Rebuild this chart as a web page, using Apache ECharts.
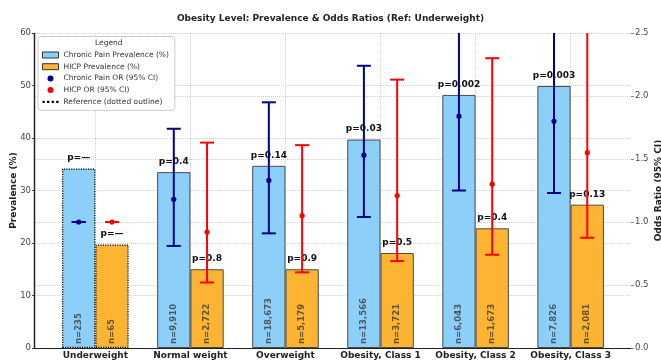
<!DOCTYPE html>
<html>
<head>
<meta charset="utf-8">
<script src="https://cdn.jsdelivr.net/npm/echarts@6/dist/echarts.min.js"></script>
<style>
  html, body { margin: 0; padding: 0; background: #fff; }
  #chart { width: 661px; height: 362px; }
</style>
</head>
<body>
<div id="chart"></div>
<script>
// Obesity categories and summary statistics
const categories = ['Underweight', 'Normal weight', 'Overweight', 'Obesity, Class 1', 'Obesity, Class 2', 'Obesity, Class 3'];
const categoryPos = [0, 1, 2, 3, 4, 5];

const cpPrev   = [34.2, 33.5, 34.7, 39.7, 48.2, 49.9];
const hicpPrev = [19.7, 15.0, 15.0, 18.1, 22.8, 27.3];

const cpN   = ['235', '9,910', '18,673', '13,566', '6,043', '7,826'];
const hicpN = ['65', '2,722', '5,179', '3,721', '1,673', '2,081'];

const cpP   = ['—', '0.4', '0.14', '0.03', '0.002', '0.003'];
const hicpP = ['—', '0.8', '0.9', '0.5', '0.4', '0.13'];

const cpOR   = [1.00, 1.18, 1.33, 1.53, 1.84, 1.80];
const cpLo   = [1.00, 0.81, 0.91, 1.04, 1.25, 1.23];
const cpHi   = [1.00, 1.74, 1.95, 2.24, 2.75, 2.65];

const hicpOR = [1.00, 0.92, 1.05, 1.21, 1.30, 1.55];
const hicpLo = [1.00, 0.52, 0.60, 0.69, 0.74, 0.875];
const hicpHi = [1.00, 1.63, 1.61, 2.13, 2.30, 2.75];

const prevTicks = { min: 0, max: 60, interval: 10 };
const orTicks = { min: 0, max: 2.5, interval: 0.5 };

// Layout constants
const FONT = 'DejaVu Sans';
const OFFSET = 0.175;            // half of bar width in category units
const X_MIN = -0.635, X_MAX = 5.635;
const PLOT = { left: 35, right: 30, top: 33, bottom: 14 };
const unitPx = (661 - PLOT.left - PLOT.right) / (X_MAX - X_MIN);
const BAR_W = 0.35 * unitPx;

const blueFill = '#8ccff8';
const orangeFill = '#fdb433';
const edge = '#4a4a4a';
const navy = '#00008b';
const red = '#ff0000';

function barData(vals, shift) {
  return vals.map((v, i) => {
    const item = { value: [categoryPos[i] + shift, v] };
    if (i === 0) {
      item.itemStyle = { borderType: 'dotted', borderColor: '#000', borderWidth: 1.2 };
    }
    return item;
  });
}

function pLabel(pArr) {
  return {
    show: true,
    position: 'top',
    distance: 6,
    fontFamily: FONT,
    fontWeight: 'bold',
    fontSize: 9,
    color: '#111',
    formatter: p => 'p=' + pArr[p.dataIndex]
  };
}

function nSeries(nArr, shift) {
  return {
    type: 'scatter',
    xAxisIndex: 0, yAxisIndex: 0,
    symbolSize: 0,
    silent: true,
    z: 5,
    data: nArr.map((n, i) => [categoryPos[i] + shift, 0]),
    label: {
      show: true,
      position: 'top',
      distance: 4,
      rotate: 90,
      align: 'left',
      verticalAlign: 'middle',
      fontFamily: FONT,
      fontWeight: 'bold',
      fontSize: 8.5,
      color: '#3a3a3a',
      formatter: p => 'n=' + nArr[p.dataIndex]
    }
  };
}

// Vertical CI whisker with caps and a centre dot, clipped to the plot area
function errRender(params, api) {
  const x = api.value(0), lo = api.value(1), hi = api.value(2), mid = api.value(3);
  const cs = params.coordSys;
  const pLo = api.coord([x, lo]);
  const pHi = api.coord([x, hi]);
  const pMid = api.coord([x, mid]);
  const color = api.visual('color');
  const top = Math.max(pHi[1], cs.y);
  const bottom = Math.min(pLo[1], cs.y + cs.height);
  const cap = 7;
  const style = { stroke: color, lineWidth: 2 };
  const children = [
    { type: 'line', shape: { x1: pMid[0], y1: top, x2: pMid[0], y2: bottom }, style: style },
    { type: 'line', shape: { x1: pMid[0] - cap, y1: pLo[1], x2: pMid[0] + cap, y2: pLo[1] }, style: style }
  ];
  if (pHi[1] >= cs.y) {
    children.push({ type: 'line', shape: { x1: pMid[0] - cap, y1: pHi[1], x2: pMid[0] + cap, y2: pHi[1] }, style: style });
  }
  children.push({ type: 'circle', shape: { cx: pMid[0], cy: pMid[1], r: 2.6 }, style: { fill: color } });
  return { type: 'group', children: children };
}

function errSeries(name, color, ors, los, his, shift) {
  return {
    name: name,
    type: 'custom',
    xAxisIndex: 0, yAxisIndex: 1,
    itemStyle: { color: color },
    z: 10,
    renderItem: errRender,
    encode: { x: 0, y: [1, 2, 3] },
    data: ors.map((v, i) => [categoryPos[i] + shift, los[i], his[i], v])
  };
}

// Left spine of the plot frame: a solid line along the x-axis minimum
function spineRender(params, api) {
  const pBottom = api.coord([X_MIN, prevTicks.min]);
  const pTop = api.coord([X_MIN, prevTicks.max]);
  const x = Math.round(pBottom[0]) - 0.5;
  return {
    type: 'line',
    shape: { x1: x, y1: pTop[1], x2: x, y2: pBottom[1] + 0.5 },
    style: { stroke: '#1a1a1a', lineWidth: 1.4 }
  };
}

const gridLine = () => ({ show: true, lineStyle: { type: 'dotted', color: '#cfcfcf', width: 1 } });

const option = {
  animation: false,
  backgroundColor: '#fff',
  textStyle: { fontFamily: FONT },
  title: {
    text: 'Obesity Level: Prevalence & Odds Ratios (Ref: Underweight)',
    left: 'center',
    top: 9,
    textStyle: { fontFamily: FONT, fontWeight: 'bold', fontSize: 9, color: '#222' }
  },
  grid: {
    left: PLOT.left, right: PLOT.right, top: PLOT.top, bottom: PLOT.bottom,
    containLabel: false, outerBoundsMode: 'none'
  },
  xAxis: {
    type: 'value', min: X_MIN, max: X_MAX,
    axisLine: { show: true, onZero: false, lineStyle: { color: '#222', width: 1 } },
    axisTick: { show: false, customValues: categoryPos },
    axisLabel: {
      customValues: categoryPos, margin: 3, showMinLabel: true, showMaxLabel: true,
      fontFamily: FONT, fontWeight: 'bold', fontSize: 9, color: '#222',
      formatter: v => categories[Math.round(v)]
    },
    splitLine: gridLine()
  },
  yAxis: [
    {
      type: 'value', position: 'left',
      min: prevTicks.min, max: prevTicks.max, interval: prevTicks.interval,
      name: 'Prevalence (%)', nameLocation: 'middle', nameGap: 17, nameRotate: 90, nameMoveOverlap: false,
      nameTextStyle: { fontFamily: FONT, fontWeight: 'bold', fontSize: 9, color: '#222' },
      axisLine: { show: false, onZero: false },
      axisTick: { show: true, length: 3, lineStyle: { color: '#444' } },
      axisLabel: { margin: 4, fontFamily: FONT, fontSize: 8.5, color: '#444' },
      splitLine: gridLine()
    },
    {
      type: 'value', position: 'right',
      min: orTicks.min, max: orTicks.max, interval: orTicks.interval,
      name: 'Odds Ratio (95% CI)', nameLocation: 'middle', nameGap: 23, nameRotate: 90, nameMoveOverlap: false,
      nameTextStyle: { fontFamily: FONT, fontWeight: 'bold', fontSize: 9, color: '#222' },
      axisLine: { show: false, onZero: false },
      axisTick: { show: true, length: 3, lineStyle: { color: '#888' } },
      axisLabel: { margin: 4, fontFamily: FONT, fontSize: 8.5, color: '#444', formatter: v => v.toFixed(1) },
      splitLine: gridLine()
    }
  ],
  legend: {
    left: 38, top: 36.5,
    orient: 'vertical',
    backgroundColor: 'rgba(255,255,255,0.9)',
    borderColor: '#cccccc', borderWidth: 1, borderRadius: 3,
    padding: [14, 6, 4, 4],
    itemGap: 2.7,
    itemWidth: 16, itemHeight: 6,
    textStyle: { fontFamily: FONT, fontSize: 7.5, color: '#333', lineHeight: 9 },
    selectedMode: false,
    data: [
      { name: 'Chronic Pain Prevalence (%)', icon: 'rect', itemStyle: { color: blueFill, borderColor: '#333', borderWidth: 1 } },
      { name: 'HICP Prevalence (%)', icon: 'rect', itemStyle: { color: orangeFill, borderColor: '#333', borderWidth: 1 } },
      { name: 'Chronic Pain OR (95% CI)', icon: 'circle', itemStyle: { color: navy } },
      { name: 'HICP OR (95% CI)', icon: 'circle', itemStyle: { color: red } },
      { name: 'Reference (dotted outline)', icon: 'path://M0,0h2v2h-2zM4,0h2v2h-2zM8,0h2v2h-2zM12,0h2v2h-2z', itemStyle: { color: '#000' } }
    ]
  },
  graphic: [
    {
      type: 'text', left: 95, top: 39, z: 100,
      style: { text: 'Legend', fontFamily: FONT, fontSize: 7.5, fill: '#333' }
    }
  ],
  series: [
    {
      type: 'custom', xAxisIndex: 0, yAxisIndex: 0,
      silent: true, clip: false, z: 20,
      renderItem: spineRender,
      data: [[X_MIN, prevTicks.min]]
    },
    {
      name: 'Chronic Pain Prevalence (%)',
      type: 'bar', xAxisIndex: 0, yAxisIndex: 0,
      barWidth: BAR_W, barGap: '-100%',
      itemStyle: { color: blueFill, borderColor: edge, borderWidth: 1 },
      label: pLabel(cpP),
      data: barData(cpPrev, -OFFSET)
    },
    {
      name: 'HICP Prevalence (%)',
      type: 'bar', xAxisIndex: 0, yAxisIndex: 0,
      barWidth: BAR_W, barGap: '-100%',
      itemStyle: { color: orangeFill, borderColor: edge, borderWidth: 1 },
      label: pLabel(hicpP),
      data: barData(hicpPrev, OFFSET)
    },
    nSeries(cpN, -OFFSET),
    nSeries(hicpN, OFFSET),
    errSeries('Chronic Pain OR (95% CI)', navy, cpOR, cpLo, cpHi, -OFFSET),
    errSeries('HICP OR (95% CI)', red, hicpOR, hicpLo, hicpHi, OFFSET),
    {
      name: 'Reference (dotted outline)',
      type: 'line', xAxisIndex: 0, yAxisIndex: 0,
      itemStyle: { color: '#000' },
      data: []
    }
  ]
};

const chart = echarts.init(document.getElementById('chart'), null, { renderer: 'canvas' });
chart.setOption(option);
</script>
</body>
</html>
